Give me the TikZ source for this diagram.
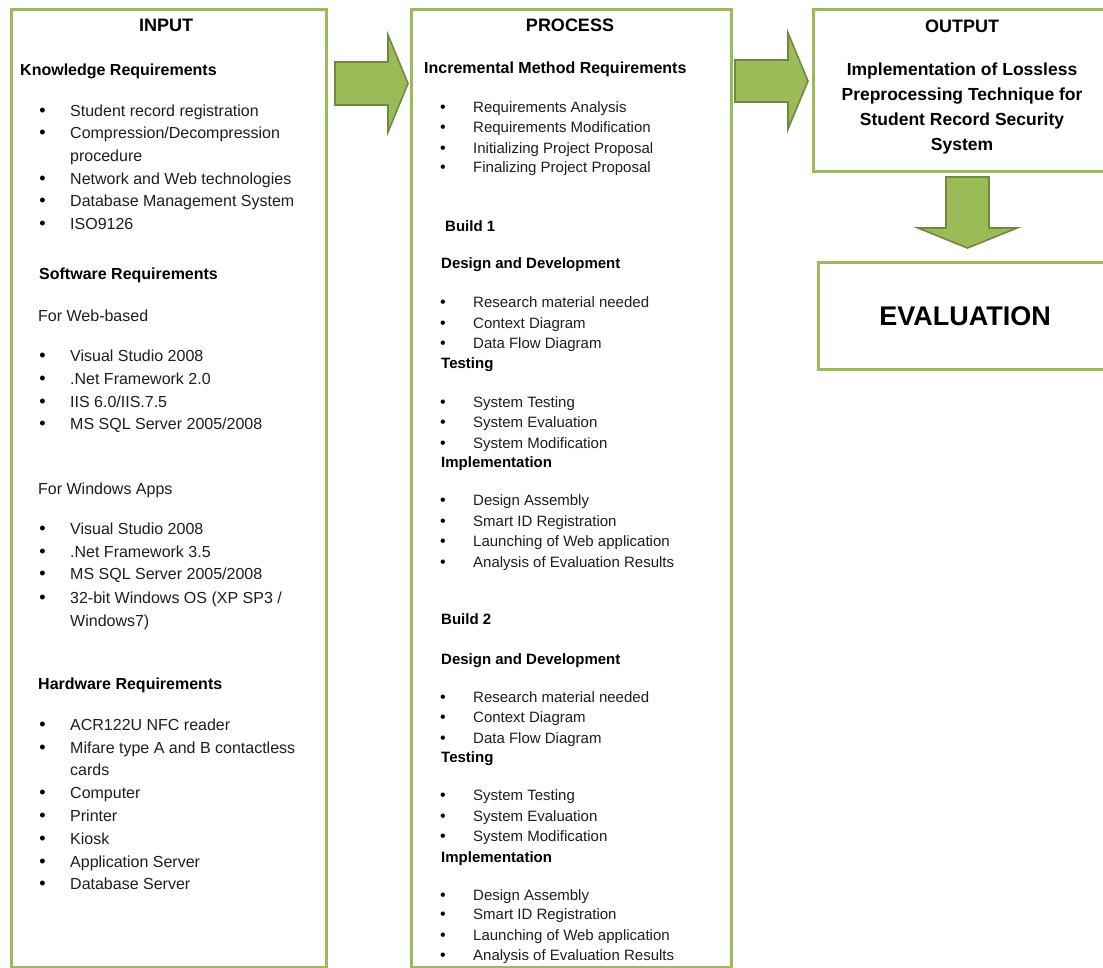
\documentclass[tikz,border=0pt]{standalone}
\usepackage{fontspec}
\setmainfont{Liberation Sans}
\definecolor{boxgreen}{HTML}{9BBB59}
\definecolor{arrowgreen}{HTML}{9BBB59}
\definecolor{arrowdark}{HTML}{71893F}
\definecolor{textcol}{HTML}{1E1E1E}
\tikzset{
  box/.style={draw=boxgreen, line width=3pt, inner sep=0pt, anchor=north west},
  blockarrow/.style={fill=arrowgreen, draw=arrowdark, line width=1.6pt, line join=miter},
  txt/.style={anchor=base west, inner sep=0pt, text=textcol, font=\fontsize{16}{19}\selectfont},
  ptxt/.style={anchor=base west, inner sep=0pt, text=textcol, font=\fontsize{15}{18}\selectfont},
  hd/.style={anchor=base west, inner sep=0pt, text=black, font=\fontsize{16}{19}\selectfont\bfseries},
  phd/.style={anchor=base west, inner sep=0pt, text=black, font=\fontsize{15}{18}\selectfont\bfseries},
  ttl/.style={anchor=base, inner sep=0pt, text=black, font=\fontsize{18}{21}\selectfont\bfseries},
  otxt/.style={anchor=base, inner sep=0pt, text=black, font=\fontsize{17.5}{25}\selectfont\bfseries},
  bul/.style={anchor=base, inner sep=0pt, text=black, font=\fontsize{18}{20}\selectfont},
  pbul/.style={anchor=base, inner sep=0pt, text=black, font=\fontsize{16}{18}\selectfont},
}
\newcommand\inbul[3]{\node[bul] (#1b) at (42.5,-#2) {•};\node[txt] (#1) at (70,-#2) {#3};}
\newcommand\prbul[3]{\node[pbul] (#1b) at (443,-#2) {•};\node[ptxt] (#1) at (473,-#2) {#3};}
\begin{document}
\begin{tikzpicture}[x=1pt,y=1pt]
\useasboundingbox (0,0) rectangle (1103,-967);
\fill[white] (0,0) rectangle (1103,-967);

% boxes
\node[box, minimum width=315pt, minimum height=958pt] (inbox) at (10,-8) {};
\node[box, minimum width=320pt, minimum height=958pt] (prbox) at (410,-8) {};
\node[box, minimum width=300pt, minimum height=162pt] (outbox) at (812,-8) {};
\node[box, minimum width=300pt, minimum height=107pt] (evbox) at (817,-261) {};

% block arrows
\draw[blockarrow] (335,-62) -- (388,-62) -- (388,-35) -- (408,-83.5) -- (388,-132) -- (388,-105) -- (335,-105) -- cycle;
\draw[blockarrow] (735,-60) -- (788,-60) -- (788,-33) -- (808,-81) -- (788,-129) -- (788,-102) -- (735,-102) -- cycle;
\draw[blockarrow] (946,-177) -- (989,-177) -- (989,-228) -- (1017,-228) -- (967.5,-248) -- (918,-228) -- (946,-228) -- cycle;

% INPUT column
\node[ttl] (inttl) at (166,-31) {INPUT};
\node[hd] (kreq) at (20,-75) {Knowledge Requirements};
\inbul{k1}{116}{Student record registration}
\inbul{k2}{138}{Compression/Decompression}
\node[txt] (k2b2) at (70,-161) {procedure};
\inbul{k3}{184}{Network and Web technologies}
\inbul{k4}{206}{Database Management System}
\inbul{k5}{229}{ISO9126}
\node[hd] (sreq) at (39,-279) {Software Requirements};
\node[txt] (web) at (38,-321) {For Web-based};
\inbul{w1}{361}{Visual Studio 2008}
\inbul{w2}{384}{.Net Framework 2.0}
\inbul{w3}{407}{IIS 6.0/IIS.7.5}
\inbul{w4}{429}{MS SQL Server 2005/2008}
\node[txt] (win) at (38,-494) {For Windows Apps};
\inbul{a1}{534}{Visual Studio 2008}
\inbul{a2}{557}{.Net Framework 3.5}
\inbul{a3}{579}{MS SQL Server 2005/2008}
\inbul{a4}{603}{32-bit Windows OS (XP SP3 /}
\node[txt] (a4b2) at (70,-626) {Windows7)};
\node[hd] (hreq) at (38,-689) {Hardware Requirements};
\inbul{h1}{730}{ACR122U NFC reader}
\inbul{h2}{753}{Mifare type A and B contactless}
\node[txt] (h2b2) at (70,-775) {cards};
\inbul{h3}{798}{Computer}
\inbul{h4}{821}{Printer}
\inbul{h5}{844}{Kiosk}
\inbul{h6}{867}{Application Server}
\inbul{h7}{889}{Database Server}

% PROCESS column
\node[ttl] (prttl) at (570,-31) {PROCESS};
\node[hd] (imreq) at (424,-73) {Incremental Method Requirements};
\prbul{m1}{112}{Requirements Analysis}
\prbul{m2}{132}{Requirements Modification}
\prbul{m3}{153}{Initializing Project Proposal}
\prbul{m4}{172}{Finalizing Project Proposal}
\node[phd] (bone) at (445,-231) {Build 1};
\node[phd] (dd1) at (441,-268) {Design and Development};
\prbul{p1}{307}{Research material needed}
\prbul{p2}{328}{Context Diagram}
\prbul{p3}{348}{Data Flow Diagram}
\node[phd] (t1) at (441,-368) {Testing};
\prbul{p4}{407}{System Testing}
\prbul{p5}{427}{System Evaluation}
\prbul{p6}{448}{System Modification}
\node[phd] (im1) at (441,-467) {Implementation};
\prbul{p7}{505}{Design Assembly}
\prbul{p8}{526}{Smart ID Registration}
\prbul{p9}{546}{Launching of Web application}
\prbul{p10}{567}{Analysis of Evaluation Results}
\node[phd] (btwo) at (441,-624) {Build 2};
\node[phd] (dd2) at (441,-664) {Design and Development};
\prbul{q1}{702}{Research material needed}
\prbul{q2}{722}{Context Diagram}
\prbul{q3}{743}{Data Flow Diagram}
\node[phd] (t2) at (441,-762) {Testing};
\prbul{q4}{800}{System Testing}
\prbul{q5}{821}{System Evaluation}
\prbul{q6}{841}{System Modification}
\node[phd] (im2) at (441,-862) {Implementation};
\prbul{q7}{900}{Design Assembly}
\prbul{q8}{919}{Smart ID Registration}
\prbul{q9}{940}{Launching of Web application}
\prbul{q10}{960}{Analysis of Evaluation Results}

% OUTPUT column
\node[ttl] (outttl) at (962,-32) {OUTPUT};
\node[otxt] (o1) at (962,-75) {Implementation of Lossless};
\node[otxt] (o2) at (962,-100) {Preprocessing Technique for};
\node[otxt] (o3) at (962,-125) {Student Record Security};
\node[otxt] (o4) at (962,-150) {System};
\node[anchor=base, inner sep=0pt, text=black, font=\fontsize{27}{30}\selectfont\bfseries] (evttl) at (965,-325) {EVALUATION};
\end{tikzpicture}
\end{document}
